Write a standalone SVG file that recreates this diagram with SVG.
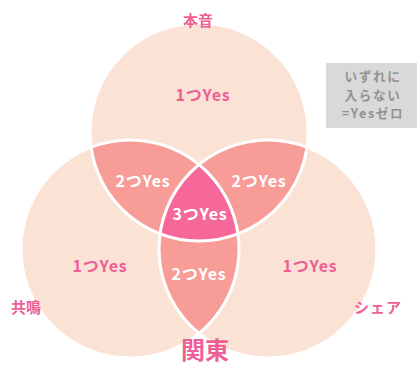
<svg xmlns="http://www.w3.org/2000/svg" width="417" height="367" viewBox="0 0 417 367">
<style>
.c{fill:#FAE3D5}
.o2{fill:#F89C97}
.o3{fill:#F7689A}
.ln{fill:none;stroke:#FFFFFF;stroke-width:3}
text{font-family:"Noto Sans CJK JP","Noto Sans",sans-serif;font-weight:bold;text-anchor:middle}
.pk{fill:#EF5E95;font-size:15px}
.y{font-size:16px;letter-spacing:0.8px}
.wh{fill:#FFFFFF}
.gy{fill:#929292;font-size:12.6px;letter-spacing:1.6px}
</style>
<defs>
<clipPath id="cA"><circle cx="199" cy="132" r="109"/></clipPath>
<clipPath id="cB"><circle cx="130" cy="249" r="109"/></clipPath>
</defs>
<rect width="417" height="367" fill="#FFFFFF"/>
<g id="circles">
<circle class="c" cx="199" cy="132" r="109"/>
<circle class="c" cx="130" cy="249" r="109"/>
<circle class="c" cx="268" cy="249" r="109"/>
</g>
<g id="overlaps">
<g clip-path="url(#cA)"><circle class="o2" cx="130" cy="249" r="109"/><circle class="o2" cx="268" cy="249" r="109"/></g>
<g clip-path="url(#cB)"><circle class="o2" cx="268" cy="249" r="109"/></g>
<g clip-path="url(#cA)"><g clip-path="url(#cB)"><circle class="o3" cx="268" cy="249" r="109"/></g></g>
</g>
<g id="outlines">
<circle class="ln" cx="199" cy="132" r="109"/>
<circle class="ln" cx="130" cy="249" r="109"/>
<circle class="ln" cx="268" cy="249" r="109"/>
</g>
<g id="honne"><text class="pk" x="198" y="26">本音</text></g>
<g id="kyomei"><text class="pk" x="26" y="313">共鳴</text></g>
<g id="share"><text class="pk" x="378" y="313" style="letter-spacing:1px">シェア</text></g>
<g id="kanto"><text class="pk" x="205" y="359" style="font-size:24px">関東</text></g>
<g id="top1"><text class="pk y" x="203" y="101">1つYes</text></g>
<g id="left1"><text class="pk y" x="100" y="272">1つYes</text></g>
<g id="right1"><text class="pk y" x="310" y="272">1つYes</text></g>
<g id="ab2"><text class="wh y" x="143" y="187">2つYes</text></g>
<g id="ac2"><text class="wh y" x="259" y="187">2つYes</text></g>
<g id="bc2"><text class="wh y" x="199" y="280">2つYes</text></g>
<g id="abc3"><text class="wh y" x="200" y="220">3つYes</text></g>
<g id="none">
<rect x="326" y="63" width="91" height="65" fill="#D9D9D9"/>
<text class="gy" x="373" y="81">いずれに</text>
<text class="gy" x="373" y="99.5">入らない</text>
<text class="gy" x="373" y="118">=Yesゼロ</text>
</g>
</svg>
